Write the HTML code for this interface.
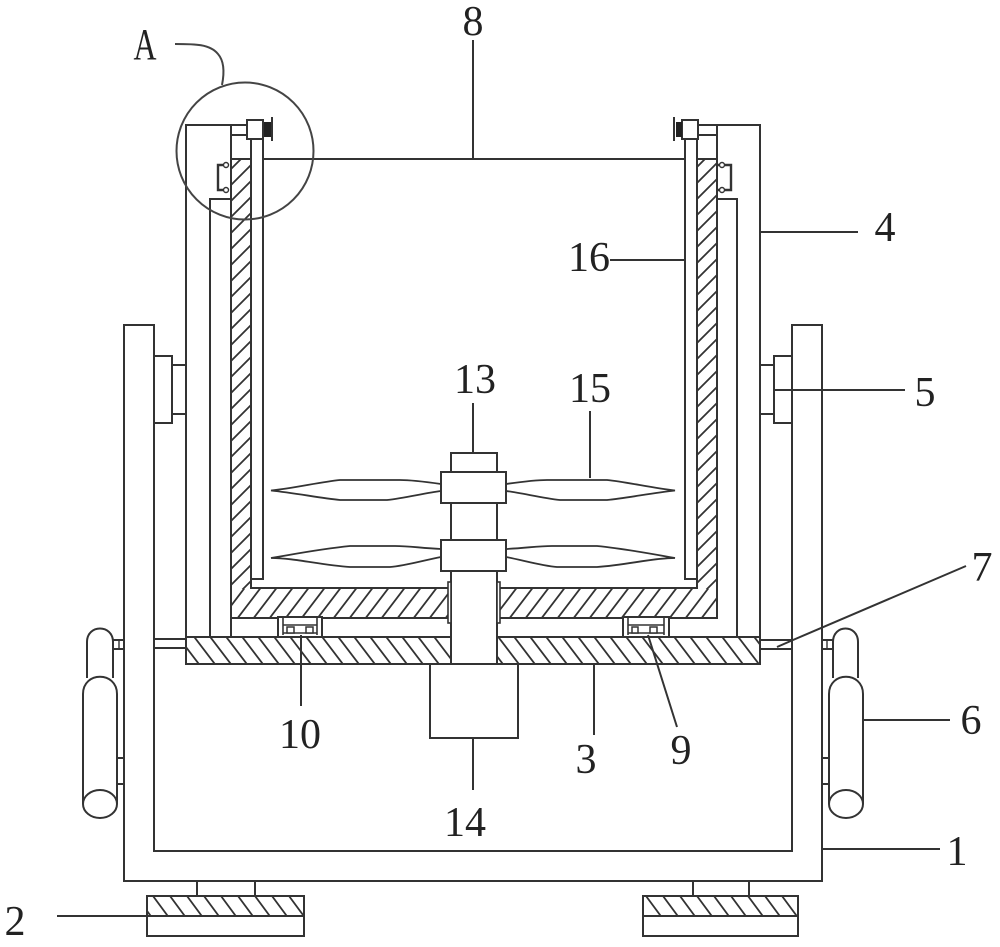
<!DOCTYPE html>
<html><head><meta charset="utf-8"><style>
html,body{margin:0;padding:0;background:#fff}
svg{display:block}
text{font-family:"Liberation Serif",serif;font-size:42px;fill:#222;text-anchor:middle}
</style></head><body>
<svg width="1000" height="947" viewBox="0 0 1000 947" xmlns="http://www.w3.org/2000/svg">
<defs>
<pattern id="f" patternUnits="userSpaceOnUse" width="16" height="16"><path d="M-2,2L2,-2M0,16L16,0M14,18L18,14" stroke="#333" stroke-width="1.8"/></pattern>
<pattern id="u" patternUnits="userSpaceOnUse" width="16" height="21" y="6"><path d="M-1.6,2.1L1.6,-2.1M0,21L16,0M14.4,23.1L17.6,18.9" stroke="#333" stroke-width="1.8"/></pattern>
<pattern id="b" patternUnits="userSpaceOnUse" width="16" height="21" y="4"><path d="M-1.6,18.9L1.6,23.1M0,0L16,21M14.4,-2.1L17.6,2.1" stroke="#333" stroke-width="1.8"/></pattern>
<pattern id="g" patternUnits="userSpaceOnUse" width="17" height="23" y="896"><path d="M-1.7,20.7L1.7,25.3M0,0L17,23M15.3,-2.3L18.7,2.3" stroke="#333" stroke-width="1.8"/></pattern>
</defs>
<rect width="1000" height="947" fill="#fff"/>
<g fill="none" stroke="#333" stroke-width="2">
<!-- frame -->
<path d="M124,325H154V851H792V325H822V881H124Z" fill="#fff"/>
<!-- feet -->
<path d="M197,881V896M255,881V896M693,881V896M749,881V896"/>
<rect x="147" y="896" width="157" height="20" fill="url(#g)"/>
<rect x="147" y="916" width="157" height="20"/>
<rect x="643" y="896" width="155" height="20" fill="url(#g)"/>
<rect x="643" y="916" width="155" height="20"/>
<!-- side brackets -->
<rect x="154" y="356" width="18" height="67" fill="#fff"/>
<rect x="172" y="365" width="14" height="49" fill="#fff"/>
<rect x="774" y="356" width="18" height="67" fill="#fff"/>
<rect x="760" y="365" width="14" height="49" fill="#fff"/>
<!-- tank -->
<path d="M186,637V125H247M231,125V637M231,135H247M210,637V199H231"/>
<path d="M760,637V125H698M717,125V159M717,135H698M737,637V199H717"/>
<path d="M231,159H251V588H697V159H717V618H231Z" fill="url(#f)" stroke="none"/>
<rect x="232" y="589" width="484" height="28.5" fill="#fff" stroke="none"/>
<rect x="232" y="589" width="484" height="28.5" fill="url(#u)" stroke="none"/>
<path d="M231,159H251V588H697V159H717V618H231Z"/>
<path d="M263,159H685"/>
<!-- rods -->
<path d="M251,139V579H263V139" fill="#fff"/>
<path d="M685,139V579H697V139" fill="#fff"/>
<rect x="247" y="120" width="16" height="19" fill="#fff"/>
<rect x="682" y="120" width="16" height="19" fill="#fff"/>
<rect x="264" y="122" width="7" height="15" fill="#222" stroke="none"/>
<path d="M272,117V141"/>
<rect x="676" y="122" width="6" height="15" fill="#222" stroke="none"/>
<path d="M674,117V141"/>
<!-- clips -->
<path d="M229,165H218V190H229M717,165H731V190H717" stroke-width="2.4"/>
<circle cx="226" cy="165" r="2.5" fill="#fff" stroke-width="1.4"/><circle cx="226" cy="190" r="2.5" fill="#fff" stroke-width="1.4"/>
<circle cx="722" cy="165" r="2.5" fill="#fff" stroke-width="1.4"/><circle cx="722" cy="190" r="2.5" fill="#fff" stroke-width="1.4"/>
<!-- plate -->
<rect x="186" y="637" width="574" height="27" fill="url(#b)"/>
<rect x="154" y="639" width="32" height="9"/>
<rect x="760" y="640" width="32" height="9"/>
<!-- pads -->
<rect x="278" y="617" width="44" height="20" fill="#fff"/>
<path d="M283,617V635M317,617V635M283,625H317M283,633H317" stroke-width="1.6"/>
<rect x="287" y="627" width="7" height="6" fill="#fff" stroke-width="1.5"/><rect x="306" y="627" width="7" height="6" fill="#fff" stroke-width="1.5"/>
<rect x="623" y="617" width="46" height="20" fill="#fff"/>
<path d="M628,617V635M664,617V635M628,625H664M628,633H664" stroke-width="1.6"/>
<rect x="632" y="627" width="6" height="6" fill="#fff" stroke-width="1.5"/><rect x="650" y="627" width="7" height="6" fill="#fff" stroke-width="1.5"/>
<!-- motor -->
<rect x="430" y="664" width="88" height="74" fill="#fff"/>
<!-- shaft -->
<rect x="451" y="453" width="46" height="211" fill="#fff"/>
<rect x="448" y="582" width="3" height="41" fill="#fff" stroke-width="1.6"/>
<rect x="497" y="582" width="3" height="41" fill="#fff" stroke-width="1.6"/>
<rect x="441" y="472" width="65" height="31" fill="#fff"/>
<rect x="441" y="540" width="65" height="31" fill="#fff"/>
<!-- blades -->
<path d="M441,484C420,481 410,480 400,480H340C320,482 295,488 271,490.5C295,493 320,498 340,500H387C405,498 425,493 441,491" stroke-width="1.8"/>
<path d="M441,549C420,548 410,546 395,546H350C320,549 295,554 271,558C295,558 320,565 350,567H390C405,566 425,560 441,557" stroke-width="1.8"/>
<path d="M506,484C527,481 537,480 547,480H607C627,482 652,488 675,490.5C652,493 627,498 607,500H560C542,498 522,493 506,491" stroke-width="1.8"/>
<path d="M506,549C527,548 537,546 552,546H597C627,549 652,554 675,558C652,558 627,565 597,567H557C542,566 522,560 506,557" stroke-width="1.8"/>
<!-- left handle -->
<path d="M87,678V642C87,624 113,624 113,642V678" fill="#fff"/>
<path d="M83,804V694C83,671 117,671 117,694V804" fill="#fff"/>
<ellipse cx="100" cy="804" rx="17" ry="14" fill="#fff"/>
<rect x="113" y="640" width="11" height="9" fill="#fff"/><path d="M119,640V649" stroke-width="1.4"/>
<rect x="117" y="758" width="7" height="26" fill="#fff"/>
<!-- right handle -->
<path d="M833,678V642C833,624 858,624 858,642V678" fill="#fff"/>
<path d="M829,804V694C829,671 863,671 863,694V804" fill="#fff"/>
<ellipse cx="846" cy="804" rx="17" ry="14" fill="#fff"/>
<rect x="822" y="640" width="11" height="9" fill="#fff"/><path d="M827,640V649" stroke-width="1.4"/>
<rect x="822" y="758" width="7" height="26" fill="#fff"/>
<!-- circle A -->
<circle cx="245" cy="151" r="68.5" stroke="#444"/>
<path d="M175,44C195,44 210,44 218,54C225,62 224,75 222,85" stroke="#444"/>
<!-- leaders -->
<path d="M473,40V159M760,232H858M610,260H685M774,390H905M473,403V453M590,411V478M966,566L793,640L777,647M863,720H950M822,849H940M57,916H147M301,635V706M594,664V735M648,635L677,727M473,738V790" stroke="#333"/>
</g>
<g>
<text x="145" y="59" textLength="23" lengthAdjust="spacingAndGlyphs" style="font-size:44px">A</text>
<text x="473" y="35">8</text>
<text x="885" y="241">4</text>
<text x="589" y="271">16</text>
<text x="925" y="406">5</text>
<text x="475" y="393">13</text>
<text x="590" y="402">15</text>
<text x="982" y="581">7</text>
<text x="971" y="734">6</text>
<text x="957" y="865">1</text>
<text x="15" y="935">2</text>
<text x="300" y="748">10</text>
<text x="586" y="773">3</text>
<text x="681" y="764">9</text>
<text x="465" y="836">14</text>
</g>
</svg>
</body></html>
